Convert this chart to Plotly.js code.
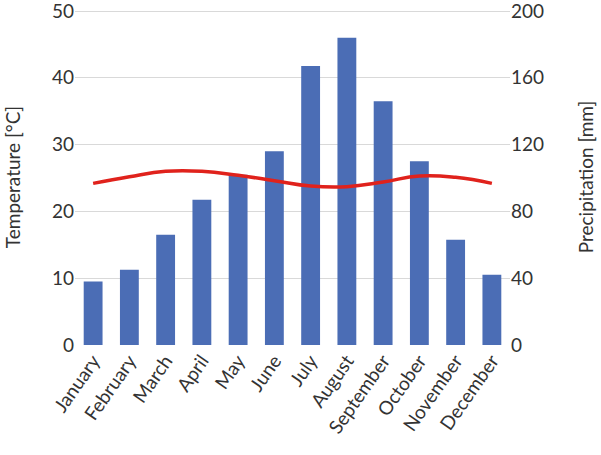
<!DOCTYPE html>
<html>
<head>
<meta charset="utf-8">
<script src="https://cdn.plot.ly/plotly-3.0.1.min.js"></script>
<style>html,body{margin:0;padding:0;background:#fff}#chart{width:601px;height:455px}</style>
</head>
<body>
<div id="chart"></div>
<script>
const months = ["January","February","March","April","May","June","July","August","September","October","November","December"];
const precipitation = [38, 45, 66, 87, 102, 116, 167, 184, 146, 110, 63, 42];
const temperature = [24.2, 25.2, 26.0, 26.0, 25.4, 24.6, 23.8, 23.7, 24.4, 25.3, 25.1, 24.2];
const precipTicks = [0, 40, 80, 120, 160, 200];
const tempTicks = [0, 10, 20, 30, 40, 50];

const font = "Lato, 'Open Sans', sans-serif";
const textColor = "#333333";

const data = [
  {
    type: "bar",
    x: months,
    y: precipitation,
    yaxis: "y",
    name: "Precipitation",
    marker: {color: "#4b6db5", line: {width: 0}},
    hoverinfo: "x+y"
  },
  {
    type: "scatter",
    mode: "lines",
    x: months,
    y: temperature,
    yaxis: "y2",
    name: "Temperature",
    line: {color: "#e0221c", width: 3.5, shape: "spline", smoothing: 1.3}
  }
];

const layout = {
  width: 601,
  height: 455,
  margin: {l: 75, r: 91, t: 9, b: 110},
  paper_bgcolor: "#ffffff",
  plot_bgcolor: "#ffffff",
  showlegend: false,
  bargap: 0.48,
  font: {family: font, color: textColor, size: 19},
  xaxis: {
    type: "category",
    tickangle: -55,
    tickfont: {family: font, size: 19, color: textColor},
    showgrid: false,
    showline: false,
    ticks: "",
    ticklen: 0
  },
  yaxis: {
    side: "right",
    range: [0, 201.2],
    tickmode: "array",
    tickvals: precipTicks,
    ticklabeloverflow: "allow",
    showgrid: true,
    gridcolor: "#d9d9d9",
    gridwidth: 1,
    zeroline: false,
    showline: false,
    ticks: "",
    tickfont: {family: font, size: 19, color: textColor},
    title: {text: "Precipitation [mm]", font: {family: font, size: 19, color: textColor}, standoff: 36}
  },
  yaxis2: {
    side: "left",
    overlaying: "y",
    range: [0, 50.3],
    tickmode: "array",
    tickvals: tempTicks,
    ticklabeloverflow: "allow",
    showgrid: false,
    zeroline: false,
    showline: false,
    ticks: "",
    tickfont: {family: font, size: 19, color: textColor},
    title: {text: "Temperature [°C]", font: {family: font, size: 19, color: textColor}, standoff: 26}
  }
};

Plotly.newPlot("chart", data, layout, {displayModeBar: false, staticPlot: true});
</script>
</body>
</html>
